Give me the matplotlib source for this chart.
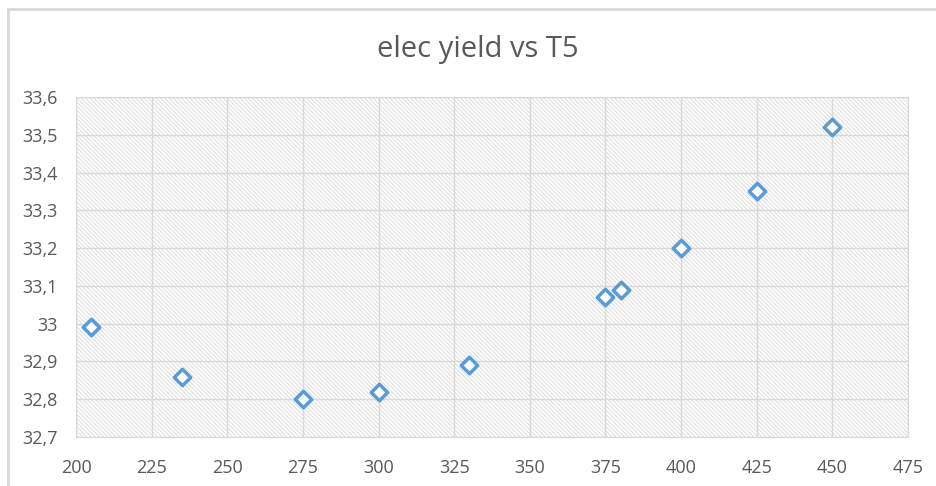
import matplotlib.pyplot as plt
from matplotlib.patches import Rectangle
from matplotlib.ticker import FuncFormatter

# data
t5 = [205, 235, 275, 300, 330, 375, 380, 400, 425, 450]
elec_yield = [32.99, 32.86, 32.80, 32.82, 32.89, 33.07, 33.09, 33.20, 33.35, 33.52]
x_ticks = [200, 225, 250, 275, 300, 325, 350, 375, 400, 425, 450, 475]
y_ticks = [32.7, 32.8, 32.9, 33.0, 33.1, 33.2, 33.3, 33.4, 33.5, 33.6]

text_col = '#595959'
grid_col = '#D9D9D9'
blue = '#5B9BD5'

plt.rcParams['font.family'] = ['Open Sans', 'DejaVu Sans']
plt.rcParams['hatch.color'] = '#DCDCDC'
plt.rcParams['hatch.linewidth'] = 0.7

fig = plt.figure(figsize=(9.36, 4.86), dpi=100)
ax = fig.add_axes([76 / 936, 49 / 486, 832 / 936, 340 / 486])

# outer chart frame
fig.patches.append(Rectangle((8 / 936, -0.1), 1.2, (486 - 9) / 486 + 0.1,
                             transform=fig.transFigure, fill=False,
                             edgecolor=grid_col, lw=2))

# hatched plot area
ax.set_facecolor('white')
ax.add_patch(Rectangle((0, 0), 1, 1, transform=ax.transAxes, facecolor='white',
                       hatch='\\' * 8, edgecolor='#DCDCDC', lw=0, zorder=0))

ax.scatter(t5, elec_yield, marker='D', s=70, facecolors='white',
           edgecolors=blue, linewidths=2.5, zorder=3)

ax.set_xlim(200, 475)
ax.set_ylim(32.7, 33.6)
ax.set_xticks(x_ticks)
ax.set_yticks(y_ticks)

def comma(v, pos):
    s = f'{v:.1f}'.rstrip('0').rstrip('.')
    return s.replace('.', ',')

ax.yaxis.set_major_formatter(FuncFormatter(comma))
ax.tick_params(length=0, labelsize=13, labelcolor=text_col)
ax.tick_params(axis='y', pad=13)
ax.tick_params(axis='x', pad=16)
ax.grid(True, color=grid_col, lw=1, zorder=1)
ax.set_axisbelow(True)
for sp in ax.spines.values():
    sp.set_color(grid_col)

fig.text(478 / 936, 1 - 50 / 486, 'elec yield vs T5', ha='center', va='center',
         fontsize=21, color=text_col)

fig.savefig('out.png', dpi=100)
